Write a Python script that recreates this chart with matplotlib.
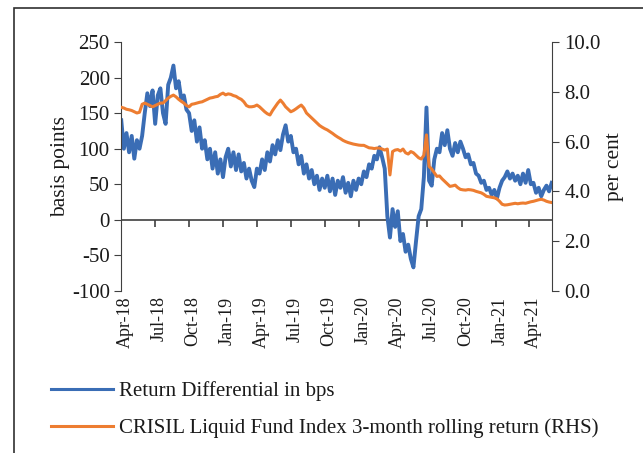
import numpy as np
import pandas as pd
import matplotlib
matplotlib.use("Agg")
import matplotlib.pyplot as plt
import matplotlib.dates as mdates
import matplotlib.transforms as mtransforms
from matplotlib.patches import Rectangle

plt.rcParams['font.family'] = ['Liberation Serif', 'DejaVu Serif']
plt.rcParams['axes.unicode_minus'] = False

# weekly observations, first week starting 2 Apr 2018
dates = pd.date_range('2018-04-02', periods=166, freq='7D')

# return differential, basis points
return_diff = [
    140, 100, 122, 95, 118, 86, 112, 100, 118, 150, 178, 160, 182,
    135, 175, 185, 150, 135, 190, 200, 217, 185, 195, 170, 175, 155,
    150, 125, 140, 110, 130, 100, 112, 85, 100, 72, 95, 65, 85,
    60, 88, 100, 75, 95, 70, 92, 68, 80, 58, 72, 55, 46,
    72, 65, 85, 70, 95, 82, 105, 92, 112, 98, 120, 133, 110,
    118, 95, 100, 78, 90, 65, 78, 58, 70, 50, 62, 42, 58,
    45, 62, 40, 58, 35, 55, 45, 60, 38, 52, 33, 55, 42,
    58, 50, 68, 60, 78, 72, 90, 85, 102, 88, 72, 5, -25,
    15, -10, 12, -30, -20, -45, -35, -55, -67, -30, 5, 15, 60,
    158, 55, 48, 85, 100, 95, 122, 105, 126, 100, 90, 108, 95,
    110, 100, 88, 92, 78, 80, 65, 62, 52, 55, 42, 45, 35,
    42, 30, 45, 55, 60, 68, 58, 65, 55, 62, 50, 65, 52,
    70, 50, 52, 38, 45, 33, 42, 48, 40, 52,
]

# CRISIL Liquid Fund Index 3-month rolling return, per cent
crisil_ret = [
    7.38, 7.35, 7.30, 7.28, 7.25, 7.20, 7.15, 7.18, 7.50, 7.55,
    7.50, 7.45, 7.40, 7.45, 7.50, 7.55, 7.55, 7.65, 7.75, 7.82,
    7.87, 7.80, 7.70, 7.62, 7.55, 7.45, 7.40, 7.50, 7.52, 7.55,
    7.58, 7.60, 7.65, 7.70, 7.75, 7.77, 7.80, 7.82, 7.90, 7.95,
    7.88, 7.92, 7.90, 7.85, 7.82,
    7.75, 7.70, 7.60, 7.45, 7.40, 7.40, 7.42, 7.47, 7.40, 7.30,
    7.20, 7.12, 7.07, 7.25, 7.40, 7.55, 7.67, 7.55, 7.40, 7.30,
    7.20, 7.25, 7.32, 7.40, 7.47, 7.35, 7.15, 7.05, 6.95, 6.85,
    6.75, 6.65, 6.58, 6.52, 6.47,
    6.40, 6.33, 6.25, 6.18, 6.12, 6.05, 6.00, 5.96, 5.93, 5.90,
    5.88, 5.86, 5.85, 5.85, 5.80, 5.75, 5.74, 5.72, 5.74, 5.74,
    5.70, 5.66, 5.70, 4.66, 5.60, 5.66, 5.68, 5.62, 5.70, 5.55,
    5.50, 5.60, 5.55, 5.45, 5.35, 5.30, 5.45, 6.27,
    5.00, 4.90, 4.75, 4.60, 4.62, 4.50, 4.40, 4.30, 4.20, 4.22,
    4.25, 4.15, 4.08, 4.06, 4.05, 4.07, 4.06, 4.04, 4.00, 3.97,
    3.94, 3.88, 3.80, 3.78, 3.76, 3.74, 3.70, 3.60, 3.48, 3.45,
    3.46, 3.48, 3.50, 3.52, 3.50, 3.52, 3.53, 3.52, 3.55, 3.58,
    3.60, 3.63, 3.66, 3.68, 3.65, 3.60, 3.57, 3.55,
]

tick_dates = pd.date_range('2018-04-01', '2021-04-01', freq='QS-APR')

blue = '#3a6db5'
orange = '#ed7d31'
axis_col = '#404040'
text_col = '#1a1a1a'

fig = plt.figure(figsize=(6.43, 4.53), dpi=100)
ax = fig.add_axes([0.188, 0.358, 0.670, 0.549])
ax2 = ax.twinx()

ax.plot(dates, return_diff, color=blue, lw=2.8, label='Return Differential in bps')
ax2.plot(dates, crisil_ret, color=orange, lw=2.2,
         label='CRISIL Liquid Fund Index 3-month rolling return (RHS)')

ax.set_xlim(pd.Timestamp('2018-04-01'), pd.Timestamp('2021-05-31'))
ax.set_ylim(-100, 250)
ax.set_yticks(range(-100, 251, 50))
ax2.set_ylim(0, 10)
ax2.set_yticks(np.arange(0, 10.1, 2))
ax2.yaxis.set_major_formatter(matplotlib.ticker.FormatStrFormatter('%.1f'))

# zero line with downward ticks; date labels stay at the bottom
ax.axhline(0, color=axis_col, lw=1.2, zorder=1)
ax.plot(tick_dates, np.zeros(len(tick_dates)), linestyle='', marker=3,
        markersize=5, markeredgewidth=1.2, color=axis_col, zorder=1)
ax.set_xticks(tick_dates)
ax.xaxis.set_major_formatter(mdates.DateFormatter('%b-%y'))
ax.tick_params(axis='x', length=0, labelrotation=90, labelsize=13, pad=4,
               labelcolor=text_col)
shift = mtransforms.ScaledTranslation(4 / 100, 0, fig.dpi_scale_trans)
for lbl in ax.get_xticklabels():
    lbl.set_transform(lbl.get_transform() + shift)

for a in (ax, ax2):
    for s in ('top', 'bottom'):
        a.spines[s].set_visible(False)
    a.spines['left'].set_visible(a is ax)
    a.spines['right'].set_visible(a is ax2)
ax.spines['left'].set_color(axis_col)
ax2.spines['right'].set_color(axis_col)
ax.tick_params(axis='y', length=5, color=axis_col, labelsize=15, pad=3,
               labelcolor=text_col)
ax2.tick_params(axis='y', length=5, color=axis_col, labelsize=15, pad=4,
                labelcolor=text_col)

ax.set_ylabel('basis points', fontsize=15.5, labelpad=1, color=text_col)
ax2.set_ylabel('per cent', fontsize=15.5, labelpad=3, color=text_col)

h1, l1 = ax.get_legend_handles_labels()
h2, l2 = ax2.get_legend_handles_labels()
leg = fig.legend(h1 + h2, l1 + l2, loc='upper left', bbox_to_anchor=(0.05, 0.2),
                 frameon=False, fontsize=15, handlelength=3.0, handletextpad=0.25,
                 labelspacing=0.85)
for t in leg.get_texts():
    t.set_color(text_col)
for ln in leg.get_lines():
    ln.set_linewidth(2.2)

# outer frame, open to the right and bottom
fig.add_artist(Rectangle((0.022, -0.05), 1.1, 1.032, transform=fig.transFigure,
                         fill=False, edgecolor='#303030', lw=1.2))

fig.savefig('out.png', dpi=100)
